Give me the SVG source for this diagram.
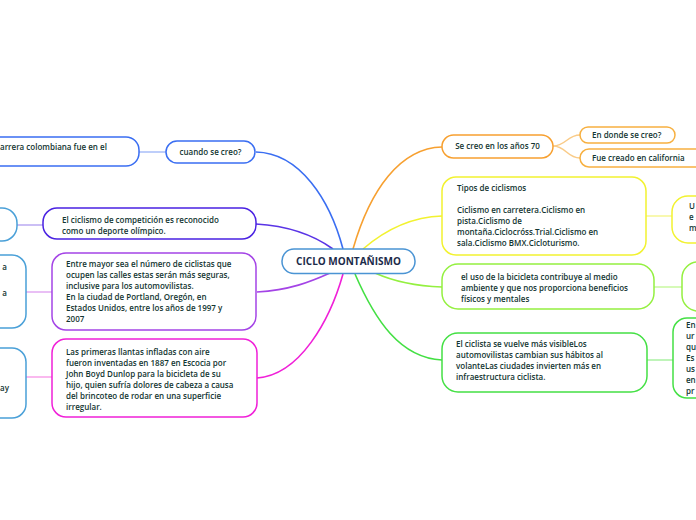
<svg xmlns="http://www.w3.org/2000/svg" width="696" height="520" viewBox="0 0 696 520">
<style>
.n{fill:#fff;stroke-width:1.5}
.t{font-family:"Open Sans","Liberation Sans",sans-serif;font-size:8px;font-weight:600;fill:#123531}
.c{fill:none;stroke-width:1.6}
.l{fill:none;stroke-width:1.5}
</style>
<rect width="696" height="520" fill="#fff"/>
<g id="connectors">
<path class="c" stroke="#3a6ef2" d="M343,249 C330,200 300,153 256,152"/>
<path class="c" stroke="#5a34e6" d="M256,224 C290,226 315,236 333,249"/>
<path class="c" stroke="#a444e6" d="M257,292 C290,290 310,282 330,273"/>
<path class="c" stroke="#f020d8" d="M257,378 C300,375 330,320 343,274"/>
<path class="c" stroke="#f7a030" d="M353,249 C370,190 400,148 442,147"/>
<path class="c" stroke="#f2f230" d="M363,249 C385,230 410,217 442,216"/>
<path class="c" stroke="#94f040" d="M375,273 C395,282 415,286 442,287"/>
<path class="c" stroke="#44e044" d="M355,274 C375,320 400,358 442,360"/>
<path class="l" stroke="#f9cb88" d="M553,146 C566,146 567,135 580,135 M553,146 C566,146 567,158 580,158"/>
<path class="l" stroke="#a8bef8" d="M139,152 H166"/>
<path class="l" stroke="#baaaf2" d="M17,225 H43"/>
<path class="l" stroke="#e2aaf2" d="M26,292 H52"/>
<path class="l" stroke="#f8a2ea" d="M26,377 H52"/>
<path class="l" stroke="#f6f694" d="M646,216 H672"/>
<path class="l" stroke="#c8f8a0" d="M654,287 H682"/>
<path class="l" stroke="#aaf0a2" d="M647,360 H673"/>
</g>
<g id="center">
<rect class="n" x="282" y="249" width="133" height="24.5" rx="12" stroke="#4a94d4"/>
<text x="348.5" y="265" text-anchor="middle" font-family="'Open Sans','Liberation Sans',sans-serif" font-size="10" font-weight="700" fill="#1c2b4a">CICLO MONTAÑISMO</text>
</g>
<g id="cuando">
<rect class="n" x="166" y="141" width="89" height="22" rx="11" stroke="#3a6ef2"/>
<text class="t" x="210.5" y="155" text-anchor="middle">cuando se creo?</text>
</g>
<g id="carrera">
<rect class="n" x="-60" y="137" width="199" height="29" rx="13" stroke="#3a6ef2"/>
<text class="t" x="0" y="150">arrera colombiana fue en el</text>
</g>
<g id="olimpico">
<rect class="n" x="43" y="208" width="213" height="31" rx="14" stroke="#4a22e2"/>
<text class="t" x="62" y="223">El ciclismo de competición es reconocido</text>
<text class="t" x="62" y="234">como un deporte olímpico.</text>
</g>
<g id="left1">
<rect class="n" x="-40" y="208" width="57" height="33" rx="15" stroke="#4aa0d8"/>
</g>
<g id="portland">
<rect class="n" x="52" y="253" width="204" height="77" rx="14" stroke="#a444e6"/>
<text class="t" x="66" y="267">Entre mayor sea el número de ciclistas que</text>
<text class="t" x="66" y="278">ocupen las calles estas serán más seguras,</text>
<text class="t" x="66" y="289">inclusive para los automovilistas.</text>
<text class="t" x="66" y="300">En la ciudad de Portland, Oregón, en</text>
<text class="t" x="66" y="311">Estados Unidos, entre los años de 1997 y</text>
<text class="t" x="66" y="322">2007</text>
</g>
<g id="left2">
<rect class="n" x="-40" y="255" width="66" height="73" rx="14" stroke="#4aa0d8"/>
<text class="t" x="7" y="270" text-anchor="end">a</text>
<text class="t" x="7" y="296" text-anchor="end">a</text>
</g>
<g id="llantas">
<rect class="n" x="52" y="339" width="205" height="78" rx="14" stroke="#f020d8"/>
<text class="t" x="66" y="355">Las primeras llantas infladas con aire</text>
<text class="t" x="66" y="366">fueron inventadas en 1887 en Escocia por</text>
<text class="t" x="66" y="377">John Boyd Dunlop para la bicicleta de su</text>
<text class="t" x="66" y="388">hijo, quien sufría dolores de cabeza a causa</text>
<text class="t" x="66" y="399">del brincoteo de rodar en una superficie</text>
<text class="t" x="66" y="410">irregular.</text>
</g>
<g id="left3">
<rect class="n" x="-40" y="348" width="66" height="70" rx="14" stroke="#4aa0d8"/>
<text class="t" x="9" y="391" text-anchor="end">ay</text>
</g>
<g id="anos70">
<rect class="n" x="442" y="135" width="111" height="23" rx="11.5" stroke="#f7a030"/>
<text class="t" x="497.5" y="149" text-anchor="middle">Se creo en los años 70</text>
</g>
<g id="donde">
<rect class="n" x="580" y="127" width="95" height="16" rx="8" stroke="#f7b040"/>
<text class="t" x="592" y="138">En donde se creo?</text>
</g>
<g id="california">
<rect class="n" x="580" y="149" width="130" height="18" rx="9" stroke="#f7b040"/>
<text class="t" x="592" y="161">Fue creado en california</text>
</g>
<g id="tipos">
<rect class="n" x="442" y="177" width="204" height="78" rx="14" stroke="#f2f230"/>
<text class="t" x="457" y="191">Tipos de ciclismos</text>
<text class="t" x="457" y="213">Ciclismo en carretera.Ciclismo en</text>
<text class="t" x="457" y="224">pista.Ciclismo de</text>
<text class="t" x="457" y="235">montaña.Ciclocróss.Trial.Ciclismo en</text>
<text class="t" x="457" y="246">sala.Ciclismo BMX.Cicloturismo.</text>
</g>
<g id="right1">
<rect class="n" x="672" y="196" width="80" height="47" rx="16" stroke="#f2f230"/>
<text class="t" x="689" y="209">U</text>
<text class="t" x="689" y="220">e</text>
<text class="t" x="689" y="231">m</text>
</g>
<g id="ambiente">
<rect class="n" x="442" y="264" width="212" height="45" rx="16" stroke="#94f040"/>
<text class="t" x="461" y="280">el uso de la bicicleta contribuye al medio</text>
<text class="t" x="461" y="291">ambiente y que nos proporciona beneficios</text>
<text class="t" x="461" y="302">físicos y mentales</text>
</g>
<g id="right2">
<rect class="n" x="682" y="262" width="80" height="49" rx="16" stroke="#94f040"/>
</g>
<g id="visible">
<rect class="n" x="442" y="333" width="205" height="59" rx="16" stroke="#44e044"/>
<text class="t" x="456" y="347">El ciclista se vuelve más visibleLos</text>
<text class="t" x="456" y="358">automovilistas cambian sus hábitos al</text>
<text class="t" x="456" y="369">volanteLas ciudades invierten más en</text>
<text class="t" x="456" y="380">infraestructura ciclista.</text>
</g>
<g id="right3">
<rect class="n" x="673" y="318" width="80" height="80" rx="14" stroke="#44e044"/>
<text class="t" x="686" y="328">En</text>
<text class="t" x="686" y="339">ur</text>
<text class="t" x="686" y="350">qu</text>
<text class="t" x="686" y="361">Es</text>
<text class="t" x="686" y="372">us</text>
<text class="t" x="686" y="383">en</text>
<text class="t" x="686" y="394">pr</text>
</g>
</svg>
